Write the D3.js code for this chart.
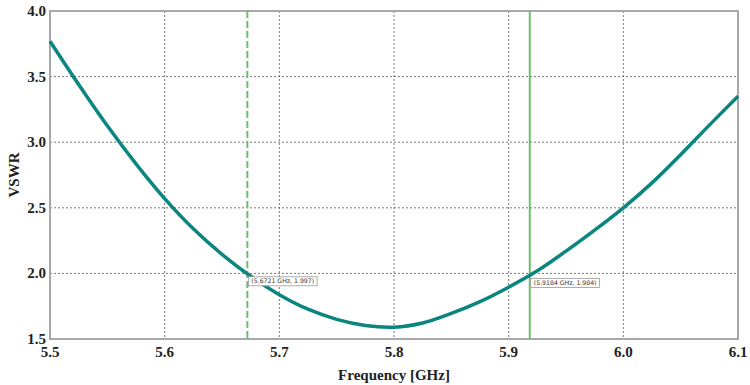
<!DOCTYPE html>
<html><head><meta charset="utf-8">
<script src="https://cdn.jsdelivr.net/npm/d3@7"></script>
<style>body{margin:0;background:#fff}svg{display:block}</style>
</head><body><svg id="c" width="750" height="385"></svg>
<script>
const freq = [5.5,5.525,5.55,5.575,5.6,5.625,5.65,5.675,5.7,5.725,5.75,5.775,5.8,5.825,5.85,5.875,5.9,5.925,5.95,5.975,6.0,6.025,6.05,6.075,6.1];
const vswr = [3.77,3.44,3.125,2.835,2.57,2.34,2.145,1.978,1.838,1.727,1.65,1.603,1.59,1.622,1.695,1.785,1.895,2.02,2.17,2.33,2.5,2.69,2.905,3.13,3.35];
const xTicks = [5.5,5.6,5.7,5.8,5.9,6.0,6.1];
const yTicks = [1.5,2.0,2.5,3.0,3.5,4.0];
const markers = [{f:5.6721, v:1.997, label:"(5.6721 GHz, 1.997)", dashed:true},
                 {f:5.9184, v:1.984, label:"(5.9184 GHz, 1.984)", dashed:false}];

const svg = d3.select("#c");
const L=50, R=738, T=11, B=339;
const x = d3.scaleLinear().domain([5.5,6.1]).range([L,R]);
const y = d3.scaleLinear().domain([1.5,4.0]).range([B,T]);

// grid
const g = svg.append("g");
g.selectAll(".gx").data(xTicks.slice(1,-1)).enter().append("line")
  .attr("x1",d=>x(d)).attr("x2",d=>x(d)).attr("y1",T).attr("y2",B)
  .attr("stroke","#555").attr("stroke-width",0.8).attr("stroke-dasharray","2,2");
g.selectAll(".gy").data(yTicks.slice(1,-1)).enter().append("line")
  .attr("y1",d=>y(d)).attr("y2",d=>y(d)).attr("x1",L).attr("x2",R)
  .attr("stroke","#555").attr("stroke-width",0.8).attr("stroke-dasharray","2,2");

// border
svg.append("rect").attr("x",L).attr("y",T).attr("width",R-L).attr("height",B-T)
  .attr("fill","none").attr("stroke","#a8a8a8").attr("stroke-width",2);

// markers
markers.forEach(m=>{
  svg.append("line").attr("x1",x(m.f)).attr("x2",x(m.f)).attr("y1",T).attr("y2",B)
    .attr("stroke","#6cbf6c").attr("stroke-width",2)
    .attr("stroke-dasharray",m.dashed?"7,3":null);
});

// curve
svg.append("path").datum(freq.map((f,i)=>[f,vswr[i]]))
  .attr("fill","none").attr("stroke","#0a8580").attr("stroke-width",3.5)
  .attr("stroke-linejoin","round")
  .attr("d",d3.line().x(d=>x(d[0])).y(d=>y(d[1])).curve(d3.curveCatmullRom));

// marker labels
markers.forEach(m=>{
  const bx = x(m.f)+1, by = y(m.v)+3;
  const t = svg.append("text").attr("x",bx+3).attr("y",by+6.5)
    .attr("font-family","DejaVu Sans, sans-serif").attr("font-size",6.2).attr("fill","#333")
    .text(m.label);
  const w = t.node().getComputedTextLength();
  svg.insert("rect","text").attr("x",bx).attr("y",by).attr("width",w+6).attr("height",9)
    .attr("fill","#fff").attr("stroke","#999").attr("stroke-width",0.8);
});

// tick labels
const fnt = "Liberation Serif, Times New Roman, serif";
svg.selectAll(".xt").data(xTicks).enter().append("text")
  .attr("x",d=>x(d)).attr("y",357).attr("text-anchor","middle")
  .attr("font-family",fnt).attr("font-weight","bold").attr("font-size",15).attr("fill","#222")
  .text(d=>d.toFixed(1));
svg.selectAll(".yt").data(yTicks).enter().append("text")
  .attr("x",46).attr("y",d=>y(d)+5).attr("text-anchor","end")
  .attr("font-family",fnt).attr("font-weight","bold").attr("font-size",15).attr("fill","#222")
  .text(d=>d.toFixed(1));

// axis titles
svg.append("text").attr("x",(L+R)/2).attr("y",380).attr("text-anchor","middle")
  .attr("font-family",fnt).attr("font-weight","bold").attr("font-size",15).attr("fill","#222")
  .text("Frequency [GHz]");
svg.append("text").attr("transform",`translate(19,${(T+B)/2}) rotate(-90)`).attr("text-anchor","middle")
  .attr("font-family",fnt).attr("font-weight","bold").attr("font-size",15).attr("fill","#222")
  .text("VSWR");
</script></body></html>
